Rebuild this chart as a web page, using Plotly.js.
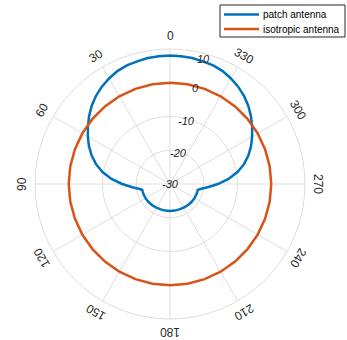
<!DOCTYPE html>
<html>
<head>
<meta charset="utf-8">
<script src="https://cdn.plot.ly/plotly-3.0.1.min.js"></script>
<style>
  html, body { margin: 0; padding: 0; background: #ffffff; }
  #chart { width: 347px; height: 340px; }
</style>
</head>
<body>
<div id="chart"></div>
<script>
// Radiation patterns in dB (angle measured counter-clockwise from the top)
const patchTheta = [0, 5, 10, 15, 20, 25, 30, 35, 40, 45, 50, 55, 60, 65, 70, 75, 80, 85, 90, 95,
  100, 102, 105, 110, 120, 130, 140, 150, 160, 170, 180, 190, 200, 210, 220, 230, 240, 250,
  255, 258, 260, 265, 270, 275, 280, 285, 290, 295, 300, 305, 310, 315, 320, 325, 330, 335,
  340, 345, 350, 355, 360];
const patchGain = [8.1, 8.0, 7.9, 7.6, 7.4, 6.9, 6.1, 5.2, 4.1, 2.8, 1.3, -0.3, -1.9, -3.5, -5.3, -7.3, -9.7, -12.6, -15.8, -18.8,
  -21.1, -21.6, -21.6, -21.6, -21.6, -21.7, -21.8, -21.9, -22.0, -22.0, -22.0, -22.0, -22.0, -21.9, -21.8, -21.7, -21.6, -21.6,
  -21.6, -21.6, -21.1, -18.8, -15.8, -12.6, -9.7, -7.3, -5.3, -3.5, -1.9, -0.3, 1.3, 2.8, 4.1, 5.2, 6.1, 6.9,
  7.4, 7.6, 7.9, 8.0, 8.1];

const isoTheta = [0, 10, 20, 30, 40, 50, 60, 70, 80, 90, 100, 110, 120, 130, 140, 150, 160, 170, 180,
  190, 200, 210, 220, 230, 240, 250, 260, 270, 280, 290, 300, 310, 320, 330, 340, 350, 360];
const isoGain = [0, 0, 0, 0, 0, 0, 0, 0, 0, 0, 0, 0, 0, 0, 0, 0, 0, 0, 0,
  0, 0, 0, 0, 0, 0, 0, 0, 0, 0, 0, 0, 0, 0, 0, 0, 0, 0];

const seriesNames = ['patch antenna', 'isotropic antenna'];
const seriesColors = ['#0072BD', '#D95319'];

// Axis ticks
const angleTicks = [0, 30, 60, 90, 120, 150, 180, 210, 240, 270, 300, 330];
const radialTicks = [-30, -20, -10, 0, 10];
const rMin = -30, rMax = 10;
const radialLabelAngle = 345;

const W = 347, H = 340;
const cx = 170, cy = 184, R = 135;   // polar centre and radius in pixels
const labelR = 148;
const font = '"Liberation Sans", Arial, Helvetica, sans-serif';
const gridColor = '#dedede';
const textColor = '#262626';

const px2x = px => px / W;
const py2y = py => 1 - py / H;

const traces = [
  {
    type: 'scatterpolar', mode: 'lines', name: seriesNames[0],
    theta: patchTheta, r: patchGain,
    line: { color: seriesColors[0], width: 2.5 }, hoverinfo: 'skip'
  },
  {
    type: 'scatterpolar', mode: 'lines', name: seriesNames[1],
    theta: isoTheta, r: isoGain,
    line: { color: seriesColors[1], width: 2.5 }, hoverinfo: 'skip'
  }
];

// Angular tick labels, rotated so their tops point outward
const annotations = angleTicks.map(a => {
  const rad = a * Math.PI / 180;
  return {
    xref: 'paper', yref: 'paper',
    x: px2x(cx - labelR * Math.sin(rad)), y: py2y(cy - labelR * Math.cos(rad)),
    xanchor: 'center', yanchor: 'middle',
    text: String(a), showarrow: false,
    textangle: -a,
    font: { family: font, size: 12, color: textColor }
  };
});

// Radial tick labels along the 345° spoke, tucked just inside each ring
radialTicks.forEach(t => {
  const rad = radialLabelAngle * Math.PI / 180;
  let rp = (t - rMin) / (rMax - rMin) * R;
  rp = Math.max(0, Math.min(R - 6, rp - 2));
  annotations.push({
    xref: 'paper', yref: 'paper',
    x: px2x(cx - rp * Math.sin(rad)), y: py2y(cy - rp * Math.cos(rad)),
    xanchor: 'center', yanchor: 'middle',
    text: String(t), showarrow: false,
    font: { family: font, size: 11, color: textColor, style: 'italic' }
  });
});

// Legend box drawn in the top-right corner
const legBox = { x0: 220, x1: 345, y0: 5, y1: 37 };
const legRows = [14.5, 29];
const shapes = [{
  type: 'rect', xref: 'paper', yref: 'paper', layer: 'above',
  x0: px2x(legBox.x0), x1: px2x(legBox.x1), y0: py2y(legBox.y0), y1: py2y(legBox.y1),
  fillcolor: '#ffffff', line: { color: textColor, width: 1 }
}];
seriesNames.forEach((name, i) => {
  shapes.push({
    type: 'line', xref: 'paper', yref: 'paper', layer: 'above',
    x0: px2x(224), x1: px2x(259), y0: py2y(legRows[i]), y1: py2y(legRows[i]),
    line: { color: seriesColors[i], width: 2.5 }
  });
  annotations.push({
    xref: 'paper', yref: 'paper', x: px2x(261), y: py2y(legRows[i]),
    xanchor: 'left', yanchor: 'middle', text: name, showarrow: false,
    font: { family: font, size: 10, color: '#000000' }
  });
});

const layout = {
  width: W, height: H,
  margin: { l: 0, r: 0, t: 0, b: 0 },
  paper_bgcolor: '#ffffff',
  showlegend: false,
  polar: {
    domain: { x: [(cx - R) / W, (cx + R) / W], y: [(H - cy - R) / H, (H - cy + R) / H] },
    bgcolor: '#ffffff',
    angularaxis: {
      rotation: 90, direction: 'counterclockwise',
      tickmode: 'linear', tick0: 0, dtick: 30,
      showticklabels: false, ticks: '',
      showgrid: true, gridcolor: gridColor, gridwidth: 1,
      showline: true, linecolor: gridColor, linewidth: 1
    },
    radialaxis: {
      range: [rMin, rMax], tickvals: [-20, -10, 0, 10],
      showticklabels: false, ticks: '', showline: false,
      showgrid: true, gridcolor: gridColor, gridwidth: 1
    }
  },
  shapes: shapes,
  annotations: annotations
};

Plotly.newPlot('chart', traces, layout, { displayModeBar: false, staticPlot: true });
</script>
</body>
</html>
